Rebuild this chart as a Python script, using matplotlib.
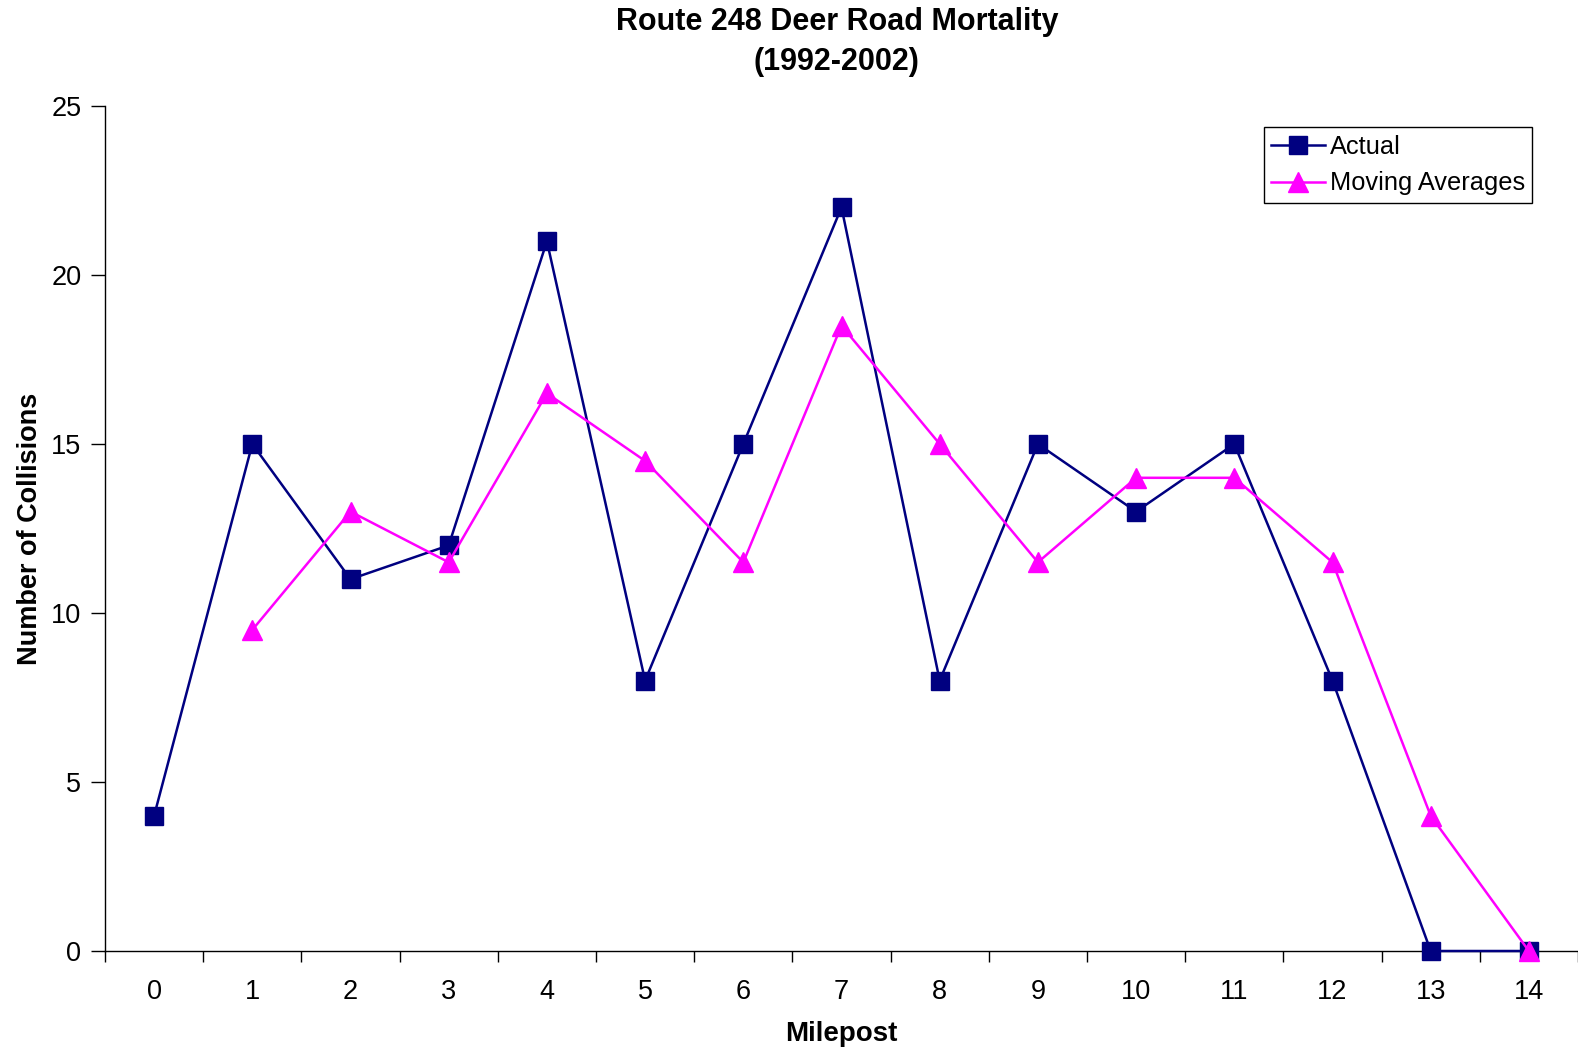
import matplotlib.pyplot as plt
import numpy as np

plt.rcParams['font.family'] = ['Liberation Sans', 'DejaVu Sans']

# Route 248 deer collisions per milepost
mileposts = list(range(15))
actual = [4, 15, 11, 12, 21, 8, 15, 22, 8, 15, 13, 15, 8, 0, 0]
# moving average has no value at milepost 0
moving_avg = [np.nan, 9.5, 13, 11.5, 16.5, 14.5, 11.5, 18.5, 15, 11.5, 14, 14, 11.5, 4, 0]
y_ticks = [0, 5, 10, 15, 20, 25]

fig = plt.figure(figsize=(15.78, 10.55), dpi=100)
ax = fig.add_axes([105/1578, 1 - 951/1055, 1 - 105/1578, (951 - 106)/1055])

ax.plot(mileposts, actual, color='#000080', lw=1.8, marker='s', ms=13,
        label='Actual', zorder=3, clip_on=False)
ax.plot(mileposts, moving_avg, color='#FF00FF', lw=1.8, marker='^', ms=14,
        label='Moving Averages', zorder=4, clip_on=False)

ax.set_xlim(-0.5, 14.5)
ax.set_ylim(0, 25)
ax.set_yticks(y_ticks)
# category axis: ticks sit between categories, labels at the centres
ax.set_xticks(np.arange(-0.5, 15, 1))
ax.set_xticklabels([])
ax.set_xticks(mileposts, minor=True)
ax.set_xticklabels([str(m) for m in mileposts], minor=True)
ax.tick_params(axis='x', which='minor', length=0, pad=20, labelsize=19.5)
ax.tick_params(axis='x', which='major', direction='out', length=8, width=1)
ax.tick_params(axis='y', direction='out', length=10, width=1, labelsize=19.5, pad=7)

for s in ['top', 'right']:
    ax.spines[s].set_visible(False)
for s in ['left', 'bottom']:
    ax.spines[s].set_linewidth(1)

ax.set_xlabel('Milepost', fontsize=20, fontweight='bold', labelpad=12)
ax.set_ylabel('Number of Collisions', fontsize=19.5, fontweight='bold', labelpad=6)
fig.text(0.5 * (1 + 105/1578) - 0.003, 1 - 42/1055,
         'Route 248 Deer Road Mortality\n(1992-2002)',
         ha='center', va='center', fontsize=22, fontweight='bold', linespacing=1.4)

leg = ax.legend(loc='upper right', bbox_to_anchor=(0.969, 0.975), fontsize=18.3,
                frameon=True, fancybox=False, framealpha=1, edgecolor='black',
                handlelength=2.1, borderpad=0.3, labelspacing=0.5,
                handletextpad=0.2, borderaxespad=0)
leg.get_frame().set_linewidth(1)

fig.savefig('out.png', dpi=100)
